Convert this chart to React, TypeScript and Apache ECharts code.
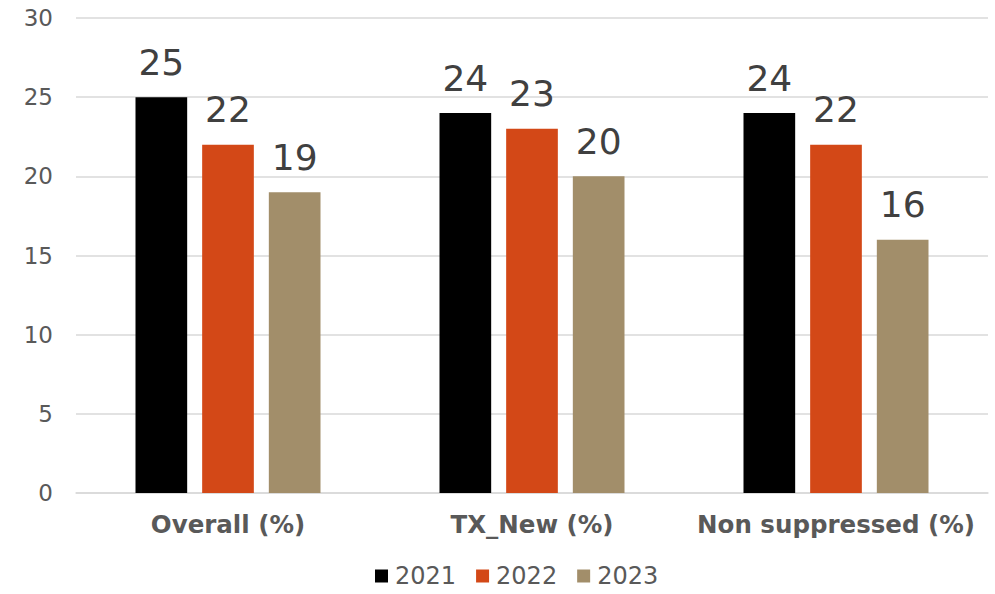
import React, { useEffect, useRef } from "react";
import * as echarts from "echarts";

const categories = ["Overall (%)", "TX_New (%)", "Non suppressed (%)"];
const seriesNames = ["2021", "2022", "2023"];
const values2021 = [25, 24, 24];
const values2022 = [22, 23, 22];
const values2023 = [19, 20, 16];
const colors = ["#000000", "#D34817", "#A28E6A"];

export default function App() {
  const ref = useRef<HTMLDivElement>(null);
  useEffect(() => {
    if (!ref.current) return;
    const chart = echarts.init(ref.current, undefined, { renderer: "svg" });
    const font = "Verdana, 'DejaVu Sans', sans-serif";
    const data = [values2021, values2022, values2023];
    chart.setOption({
      animation: false,
      textStyle: { fontFamily: font },
      grid: { left: 76, right: 7, top: 18, bottom: 101, containLabel: false },
      legend: {
        bottom: 1,
        left: 370,
        itemWidth: 13,
        itemHeight: 13,
        itemGap: 20,
        icon: "rect",
        textStyle: { fontFamily: font, fontSize: 24, color: "#595959", padding: [0, 0, 0, 2] },
        data: seriesNames,
      },
      xAxis: {
        type: "category",
        data: categories,
        axisLine: { lineStyle: { color: "#D9D9D9", width: 1.5 } },
        axisTick: { show: false },
        axisLabel: { interval: 0, fontFamily: font, fontSize: 24.5, fontWeight: "bold", color: "#595959", margin: 19 },
      },
      yAxis: {
        type: "value",
        min: 0,
        max: 30,
        interval: 5,
        axisLine: { show: false },
        axisTick: { show: false },
        splitLine: { lineStyle: { color: "#D9D9D9", width: 1.5 } },
        axisLabel: { fontFamily: font, fontSize: 23, color: "#595959", margin: 23 },
      },
      series: seriesNames.map((name, i) => ({
        name,
        type: "bar",
        data: data[i],
        barWidth: "17%",
        barGap: "29%",
        itemStyle: { color: colors[i] },
        label: {
          show: true,
          position: "top",
          distance: 17,
          fontFamily: font,
          fontSize: 36,
          color: "#404040",
        },
      })),
    });
    return () => chart.dispose();
  }, []);
  return <div ref={ref} style={{ width: 995, height: 594, position: "absolute", left: 0, top: 0 }} />;
}
